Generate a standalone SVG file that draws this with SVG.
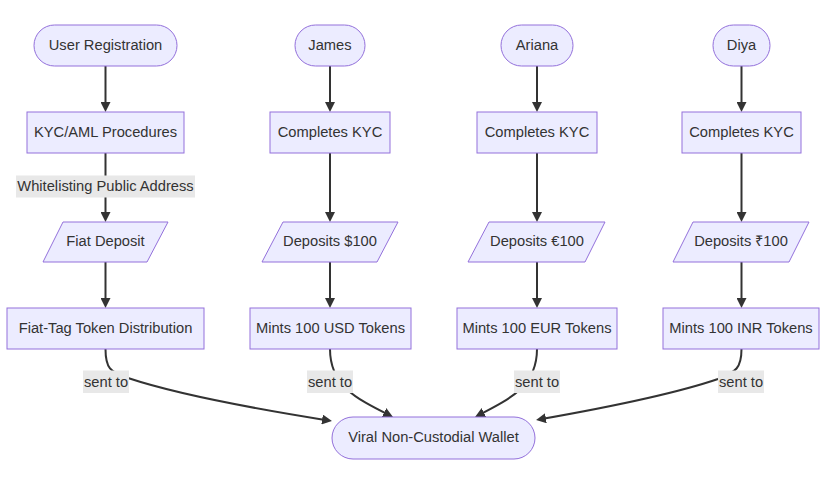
<svg xmlns="http://www.w3.org/2000/svg" width="827" height="484" viewBox="0 0 827 484">
<style>
.node rect, .node polygon { fill: #ECECFF; stroke: #9370DB; stroke-width: 1; }
.node text, .lbl text { font-family: "Trebuchet MS", "Liberation Sans", Arial, sans-serif; font-size: 14.7px; fill: #333333; text-anchor: middle; }
.edge { fill: none; stroke: #333333; stroke-width: 2; marker-end: url(#arrow); }
.lbl rect { fill: #E8E8E8; }
</style>
<defs>
<marker id="arrow" viewBox="0 0 10 10" refX="6" refY="5" markerWidth="10" markerHeight="10" markerUnits="userSpaceOnUse" orient="auto">
<path d="M0,0 L10,5 L0,10 z" fill="#333333"/>
</marker>
</defs>
<rect width="827" height="484" fill="#ffffff"/>
<g id="connectors">
<path class="edge" d="M105.5,66 L105.5,108"/>
<path class="edge" d="M105.5,153 L105.5,218"/>
<path class="edge" d="M105.5,262 L105.5,304"/>
<path class="edge" d="M330,66 L330,108"/>
<path class="edge" d="M330,153 L330,218"/>
<path class="edge" d="M330,262 L330,304"/>
<path class="edge" d="M537,66 L537,108"/>
<path class="edge" d="M537,153 L537,218"/>
<path class="edge" d="M537,262 L537,304"/>
<path class="edge" d="M741.5,66 L741.5,108"/>
<path class="edge" d="M741.5,153 L741.5,218"/>
<path class="edge" d="M741.5,262 L741.5,304"/>
<path class="edge" d="M105.5,349 C105.5,368 110,372 128,378 C170,392 250,408 328,420.4"/>
<path class="edge" d="M330,349 C330,385 355,398 389.4,415.2"/>
<path class="edge" d="M537,349 C537,385 512,398 478.6,415.2"/>
<path class="edge" d="M741.5,349 C741.5,368 736,372 718,379 C680,392 610,407 540,419.3"/>
</g>
<g id="edge-labels" class="lbl">
<g id="label-whitelisting"><rect x="16" y="175.5" width="179" height="22"/><text x="105.5" y="191">Whitelisting Public Address</text></g>
<g id="label-sent1"><rect x="83" y="370.5" width="46" height="22.5"/><text x="106" y="386.5">sent to</text></g>
<g id="label-sent2"><rect x="307" y="370.5" width="46" height="22.5"/><text x="330" y="386.5">sent to</text></g>
<g id="label-sent3"><rect x="514" y="370.5" width="46" height="22.5"/><text x="537" y="386.5">sent to</text></g>
<g id="label-sent4"><rect x="718" y="370.5" width="46" height="22.5"/><text x="741" y="386.5">sent to</text></g>
</g>
<g id="user-registration" class="node"><rect x="34" y="25" width="143" height="41" rx="20.5" ry="20.5"/><text x="105.5" y="49.5">User Registration</text></g>
<g id="kyc-aml" class="node"><rect x="27" y="112" width="157" height="41"/><text x="105.5" y="136.5">KYC/AML Procedures</text></g>
<g id="fiat-deposit" class="node"><polygon points="43,262 147,262 168,222 63,222"/><text x="105.5" y="246">Fiat Deposit</text></g>
<g id="fiat-tag" class="node"><rect x="7" y="308" width="197" height="41"/><text x="105.5" y="332.5">Fiat-Tag Token Distribution</text></g>
<g id="james" class="node"><rect x="295" y="25" width="70" height="41" rx="20.5" ry="20.5"/><text x="330" y="49.5">James</text></g>
<g id="james-kyc" class="node"><rect x="270" y="112" width="120" height="41"/><text x="330" y="136.5">Completes KYC</text></g>
<g id="james-deposit" class="node"><polygon points="262,262 377,262 398,222 283,222"/><text x="330" y="246">Deposits $100</text></g>
<g id="james-mint" class="node"><rect x="250" y="308" width="161" height="41"/><text x="330.5" y="332.5">Mints 100 USD Tokens</text></g>
<g id="ariana" class="node"><rect x="501" y="25" width="72" height="41" rx="20.5" ry="20.5"/><text x="537" y="49.5">Ariana</text></g>
<g id="ariana-kyc" class="node"><rect x="477" y="112" width="120" height="41"/><text x="537" y="136.5">Completes KYC</text></g>
<g id="ariana-deposit" class="node"><polygon points="468,262 585,262 605,222 489,222"/><text x="537" y="246">Deposits €100</text></g>
<g id="ariana-mint" class="node"><rect x="457" y="308" width="160" height="41"/><text x="537" y="332.5">Mints 100 EUR Tokens</text></g>
<g id="diya" class="node"><rect x="713" y="25" width="57" height="41" rx="20.5" ry="20.5"/><text x="741.5" y="49.5">Diya</text></g>
<g id="diya-kyc" class="node"><rect x="682" y="112" width="119" height="41"/><text x="741.5" y="136.5">Completes KYC</text></g>
<g id="diya-deposit" class="node"><polygon points="673,262 789,262 809,222 693,222"/><text x="741" y="246">Deposits ₹100</text></g>
<g id="diya-mint" class="node"><rect x="663" y="308" width="156" height="41"/><text x="741" y="332.5">Mints 100 INR Tokens</text></g>
<g id="wallet" class="node"><rect x="332" y="417" width="203" height="42" rx="21" ry="21"/><text x="433.5" y="442">Viral Non-Custodial Wallet</text></g>
</svg>
